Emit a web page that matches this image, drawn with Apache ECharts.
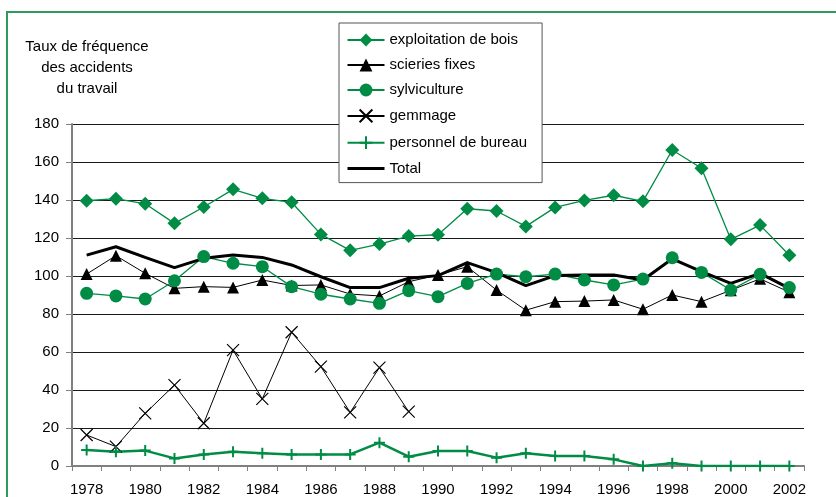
<!DOCTYPE html>
<html>
<head>
<meta charset="utf-8">
<script src="https://cdn.jsdelivr.net/npm/echarts@6/dist/echarts.min.js"></script>
<style>
  html, body { margin: 0; padding: 0; background: #fff; }
  #chart { width: 836px; height: 497px; }
</style>
</head>
<body>
<div id="chart"></div>
<script>
// annees
var years = ['1978','1979','1980','1981','1982','1983','1984','1985','1986','1987','1988','1989','1990',
             '1991','1992','1993','1994','1995','1996','1997','1998','1999','2000','2001','2002'];

var exploitation = [139.6,140.7,138,127.7,136.3,145.6,140.9,138.8,121.9,113.5,116.8,121,121.7,
                    135.4,134.2,126.1,136.1,139.8,142.5,139.3,166.3,156.7,119.3,126.8,110.9];
var scieries = [101,110.7,101.4,93.5,94.4,94,97.9,95,95.3,90.5,89.5,97,100.5,
                104.9,92.6,82,86.5,86.8,87.4,82.5,90,86.5,92.5,98.5,91.5];
var sylviculture = [90.9,89.5,87.9,97.5,110.2,106.7,104.9,94.4,90.4,87.9,85.6,92.3,89.1,
                    96.1,101,99.6,101,97.9,95.3,98.4,109.6,101.9,92.6,100.9,93.9];
var gemmage = [16.3,10.2,27.7,42.6,22.5,61,35.3,70.4,52.3,28.2,51.8,28.6,null,
               null,null,null,null,null,null,null,null,null,null,null,null];
var bureau = [8.4,7.5,8.1,4,6.1,7.5,6.7,6.1,6.1,6.1,12.3,4.9,7.9,
              7.9,4.4,6.7,5.3,5.3,3.5,0,1.4,0,0,0,0];
var total = [111,115.4,109.8,104.4,109.3,111,109.8,105.8,99.6,93.9,93.9,98.8,100.2,
             107,101.8,94.9,100.2,100.5,100.5,97.9,109,102.3,96.1,101.4,93.5];

var yTicks = [0,20,40,60,80,100,120,140,160,180];

var green = '#008C45';
var font = 'Arial, "Liberation Sans", sans-serif';

var chart = echarts.init(document.getElementById('chart'));

function lineSeries(name, data, color, width, symbol, size, extra) {
    var s = {
        name: name,
        type: 'line',
        data: data,
        symbol: symbol,
        symbolSize: size,
        showSymbol: symbol !== 'none',
        lineStyle: { color: color, width: width },
        itemStyle: { color: color },
        emphasis: { disabled: true },
        animation: false
    };
    if (extra) Object.assign(s.itemStyle, extra);
    return s;
}

var option = {
    backgroundColor: '#fff',
    animation: false,
    grid: { left: 72, top: 124, right: 32, bottom: 31, containLabel: false },
    graphic: [
        { type: 'rect', shape: { x: 7, y: 12, width: 900, height: 600 },
          style: { fill: 'none', stroke: '#2e9a5e', lineWidth: 2 }, z: -1 },
        { type: 'text', x: 87, y: 36,
          style: { text: 'Taux de fréquence\ndes accidents\ndu travail', font: '15px ' + font,
                   fill: '#000', textAlign: 'center', textVerticalAlign: 'top', lineHeight: 21 } }
    ],
    legend: {
        orient: 'vertical',
        left: 339,
        top: 23,
        padding: [9, 15, 6, 7],
        itemWidth: 37,
        itemHeight: 16,
        itemGap: 9,
        backgroundColor: '#fff',
        borderColor: '#555',
        borderWidth: 1,
        textStyle: { fontFamily: font, fontSize: 15, color: '#000', lineHeight: 16 },
        data: ['exploitation de bois','scieries fixes','sylviculture','gemmage','personnel de bureau',
               { name: 'Total', itemStyle: { opacity: 0 }, lineStyle: { width: 3 } }]
    },
    xAxis: {
        type: 'category',
        data: years,
        boundaryGap: true,
        axisLine: { lineStyle: { color: '#808080', width: 2 } },
        axisTick: { show: true, interval: 0, length: 5, lineStyle: { color: '#808080' } },
        axisLabel: { interval: 1, margin: 16, fontFamily: font, fontSize: 15, color: '#000' },
        splitLine: { show: false }
    },
    yAxis: {
        type: 'value',
        min: 0,
        max: 180,
        interval: 20,
        axisLine: { show: true, lineStyle: { color: '#808080', width: 2 } },
        axisTick: { show: true, length: 6, lineStyle: { color: '#808080' } },
        axisLabel: { margin: 13, fontFamily: font, fontSize: 15, color: '#000',
                     formatter: function (v) { return yTicks.indexOf(v) >= 0 ? v : ''; } },
        splitLine: { lineStyle: { color: '#1a1a1a', width: 1 } }
    },
    series: [
        lineSeries('exploitation de bois', exploitation, green, 1.3, 'diamond', 14),
        lineSeries('scieries fixes', scieries, '#000', 1, 'triangle', 12),
        lineSeries('sylviculture', sylviculture, green, 1.3, 'circle', 13),
        lineSeries('gemmage', gemmage, '#000', 1, 'path://M0,0L10,10M10,0L0,10', 12,
                   { color: 'none', borderColor: '#000', borderWidth: 1.2 }),
        lineSeries('personnel de bureau', bureau, green, 2.5, 'path://M5,0L5,10M0,5L10,5', 11,
                   { color: 'none', borderColor: green, borderWidth: 2 }),
        lineSeries('Total', total, '#000', 3, 'none', 0)
    ]
};

chart.setOption(option);
</script>
</body>
</html>
